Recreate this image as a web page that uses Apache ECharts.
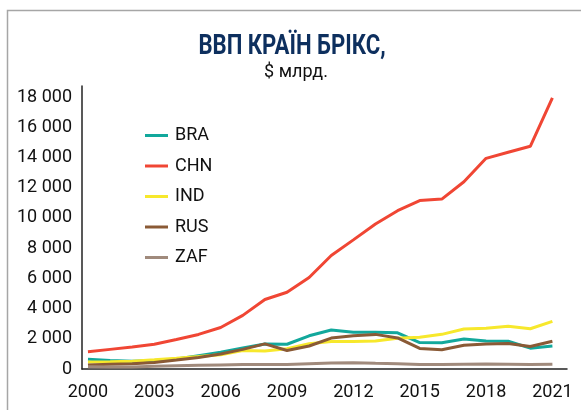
<!DOCTYPE html>
<html><head><meta charset="utf-8">
<script src="https://cdn.jsdelivr.net/npm/echarts@6/dist/echarts.min.js"></script>
<style>html,body{margin:0;padding:0;background:#fff}#c{width:581px;height:410px}</style>
</head><body><div id="c"></div>
<script>
var years = [2000,2001,2002,2003,2004,2005,2006,2007,2008,2009,2010,2011,2012,2013,2014,2015,2016,2017,2018,2019,2020,2021];
var BRA = [640,555,505,555,665,885,1105,1395,1650,1640,2200,2580,2440,2440,2400,1750,1740,1990,1860,1840,1380,1520];
var CHN = [1150,1300,1450,1640,1950,2290,2750,3550,4600,5080,6060,7520,8550,9600,10480,11150,11250,12400,13950,14350,14750,17950];
var IND = [468,485,515,608,709,820,940,1217,1199,1342,1676,1823,1828,1857,2039,2104,2295,2651,2703,2836,2668,3150];
var RUS = [260,307,345,430,591,764,990,1300,1661,1223,1525,2046,2208,2292,2059,1363,1277,1575,1657,1693,1489,1836];
var ZAF = [150,140,130,180,220,250,270,290,290,300,350,400,420,380,350,300,290,320,330,320,290,320];
var xTicks = [2000,2003,2006,2009,2012,2015,2018,2021];
var yTicks = [0,2000,4000,6000,8000,10000,12000,14000,16000,18000];
var titleText = 'ВВП КРАЇН БРІКС,';
var subText = '$ млрд.';

var names = ['BRA','CHN','IND','RUS','ZAF'];
var vals = [BRA,CHN,IND,RUS,ZAF];
var colors = ['#12a89c','#f04634','#f7e82c','#8a5a36','#a08a7c'];
var FONT = 'Roboto, "Noto Sans", sans-serif';

var chart = echarts.init(document.getElementById('c'), null, {renderer:'canvas'});
chart.setOption({
  animation:false,
  backgroundColor:'#fff',
  color: colors,
  grid:{left:82,right:14,top:86,bottom:41},
  graphic:[
    {type:'polyline', shape:{points:[[7.5,410],[7.5,10.5],[581,10.5]]}, style:{stroke:'#a6a6a6',lineWidth:1.5,fill:null}},
    {type:'text', x:292, y:47, scaleX:0.82, style:{text:titleText, font:'bold 27px '+FONT, fill:'#0d2f5e', textAlign:'center', textVerticalAlign:'middle'}},
    {type:'text', x:296, y:72, style:{text:subText, font:'18px '+FONT, fill:'#111', textAlign:'center', textVerticalAlign:'middle'}}
  ],
  legend:{
    orient:'vertical', left:145, top:126, padding:0, icon:'rect', itemWidth:23, itemHeight:3, itemGap:11.5,
    textStyle:{fontFamily:FONT, fontSize:18, color:'#111', lineHeight:19, padding:[0,0,0,2]},
    data:names
  },
  xAxis:{
    type:'value', min:1999.73, max:2021.66,
    axisLine:{show:true, onZero:false, lineStyle:{color:'#222',width:1.5}},
    axisTick:{show:false}, splitLine:{show:false},
    axisLabel:{customValues:xTicks, fontFamily:FONT, fontSize:18, color:'#111', margin:14,
      formatter:function(v){return String(v);}}
  },
  yAxis:{
    type:'value', min:0, max:18740,
    axisLine:{show:true, lineStyle:{color:'#222',width:1.5}},
    axisTick:{show:false}, splitLine:{show:false},
    axisLabel:{customValues:yTicks, fontFamily:FONT, fontSize:18, color:'#111', margin:10,
      formatter:function(v){var s=String(v); return s.length>3 ? s.slice(0,s.length-3)+' '+s.slice(-3) : s;}}
  },
  series: names.map(function(n,i){
    return {name:n, type:'line', symbol:'none', lineStyle:{width:3, color:colors[i]}, itemStyle:{color:colors[i]},
      data: years.map(function(y,j){return [y, vals[i][j]];})};
  })
});
</script></body></html>
